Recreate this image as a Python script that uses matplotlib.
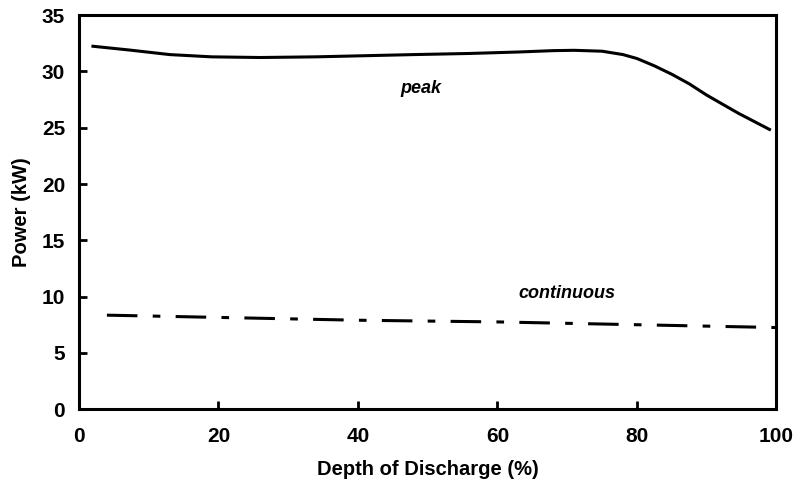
import matplotlib.pyplot as plt
import numpy as np

# Data
peak_dod = [2, 7.3, 13, 19, 26, 34, 41, 48, 56, 63, 68, 71, 75, 78, 80, 82.5, 85, 87.5, 90, 94.5, 99]
peak_kw = [32.24, 31.9, 31.5, 31.3, 31.24, 31.3, 31.4, 31.5, 31.6, 31.73, 31.85, 31.88, 31.8, 31.5, 31.15, 30.5, 29.75, 28.9, 27.9, 26.3, 24.85]

cont_dod = [4, 20, 40, 60, 80, 100]
cont_kw = [8.35, 8.15, 7.9, 7.75, 7.5, 7.25]

plt.rcParams['font.family'] = ['Liberation Sans', 'DejaVu Sans']
plt.rcParams['font.weight'] = 'bold'

fig = plt.figure(figsize=(7.98, 4.9), dpi=100)
ax = fig.add_axes([0.099, 0.165, 0.874, 0.804])

ax.plot(peak_dod, peak_kw, color='black', lw=2.2, solid_joinstyle='round')
ax.plot(cont_dod, cont_kw, color='black', lw=2.2, dashes=(10, 5, 2.5, 5))

ax.text(49, 28.5, 'peak', style='italic', fontweight='bold', fontsize=13, ha='center', va='center')
ax.text(70, 10.3, 'continuous', style='italic', fontweight='bold', fontsize=13, ha='center', va='center')

ax.set_xlim(0, 100)
ax.set_ylim(0, 35)
ax.set_xticks(np.arange(0, 101, 20))
ax.set_yticks(np.arange(0, 36, 5))
ax.tick_params(direction='in', length=6, width=2, labelsize=15)
ax.tick_params(axis='x', pad=13)
ax.tick_params(axis='y', pad=10)
for lbl in ax.get_xticklabels() + ax.get_yticklabels():
    lbl.set_fontweight('bold')
for sp in ax.spines.values():
    sp.set_linewidth(2.2)

ax.set_xlabel('Depth of Discharge (%)', fontsize=14.5, fontweight='bold', labelpad=10)
ax.set_ylabel('Power (kW)', fontsize=14.5, fontweight='bold', labelpad=8)

fig.savefig('out.png', dpi=100)
